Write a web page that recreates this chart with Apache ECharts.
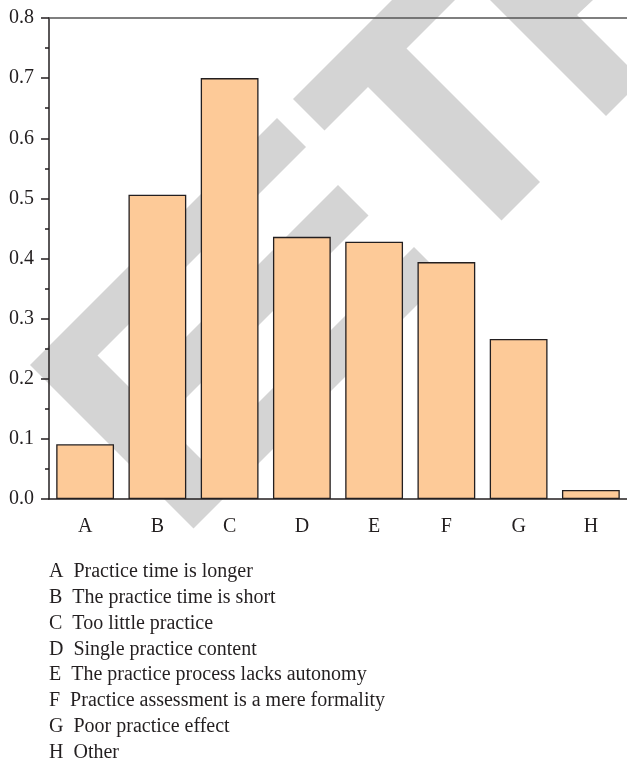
<!DOCTYPE html>
<html>
<head>
<meta charset="utf-8">
<script src="https://cdn.jsdelivr.net/npm/echarts@6/dist/echarts.min.js"></script>
<style>html,body{margin:0;padding:0;background:#fff;}#c{width:627px;height:776px;}</style>
</head>
<body>
<div id="c"></div>
<script>
const categories = ['A', 'B', 'C', 'D', 'E', 'F', 'G', 'H'];
const values = [0.091, 0.506, 0.700, 0.436, 0.428, 0.394, 0.266, 0.015];
const descriptions = [
  'Practice time is longer',
  'The practice time is short',
  'Too little practice',
  'Single practice content',
  'The practice process lacks autonomy',
  'Practice assessment is a mere formality',
  'Poor practice effect',
  'Other'
];
const yMin = 0, yMax = 0.8, yStep = 0.1;

const FONT = 'Liberation Serif';
const INK = '#231f20';
const WM = '#d4d4d4';

// decorative "retracted" watermark pieces (pixel shapes, not data)
const watermark = [
  [[30,365],[277,118],[306,147],[97.5,355.5],[132.5,390.5],[338,185],[368.5,215.5],[163,421],[201.5,459.5],[414,247],[444.5,277.5],[193.5,528.5]],
  [[293,99],[392,0],[455,0],[406.5,48.5],[540,182],[501.5,220.5],[368,87],[324.5,130.5]],
  [[490,0],[593,0],[577,15],[627,65],[627,95],[606,116]]
];

const graphics = watermark.map(pts => ({
  type: 'polygon', z: -10, silent: true,
  shape: { points: pts },
  style: { fill: WM }
}));
categories.forEach((c, i) => {
  graphics.push({
    type: 'text', left: 49, top: 562 + i * 25.8, z: 10,
    style: { text: c + '  ' + descriptions[i], font: '20px "' + FONT + '"', fill: INK }
  });
});

const chart = echarts.init(document.getElementById('c'), null, { renderer: 'canvas' });
chart.setOption({
  animation: false,
  grid: { left: 49, top: 18, width: 580, bottom: 277, containLabel: false },
  xAxis: [
    {
      type: 'category', data: categories, position: 'bottom', z: 5,
      axisLine: { lineStyle: { color: INK, width: 1.5 } },
      axisTick: { alignWithLabel: true, length: 8, lineStyle: { color: INK, width: 1.5 } },
      axisLabel: { fontFamily: FONT, fontSize: 20, color: INK, margin: 18 }
    },
    {
      type: 'category', data: categories, position: 'bottom', z: 5,
      axisLine: { show: false },
      axisTick: { length: 4, lineStyle: { color: INK, width: 1.5 } },
      axisLabel: { show: false }
    },
    {
      type: 'category', data: categories, position: 'top', z: 5,
      axisLine: { lineStyle: { color: '#555', width: 1.5 } },
      axisTick: { show: false },
      axisLabel: { show: false }
    }
  ],
  yAxis: {
    type: 'value', min: yMin, max: yMax, interval: yStep, z: 5,
    axisLine: { show: true, lineStyle: { color: INK, width: 1.5 } },
    axisTick: { show: true, length: 8, lineStyle: { color: INK, width: 1.5 } },
    minorTick: { show: true, splitNumber: 2, length: 4, lineStyle: { color: INK, width: 1.5 } },
    splitLine: { show: false },
    axisLabel: { fontFamily: FONT, fontSize: 20, color: INK, margin: 15, formatter: v => v.toFixed(1) }
  },
  series: [{
    type: 'bar', xAxisIndex: 0, data: values, barCategoryGap: '20%',
    itemStyle: { color: '#FDCA98', borderColor: INK, borderWidth: 1.3 }
  }],
  graphic: graphics
});
</script>
</body>
</html>
